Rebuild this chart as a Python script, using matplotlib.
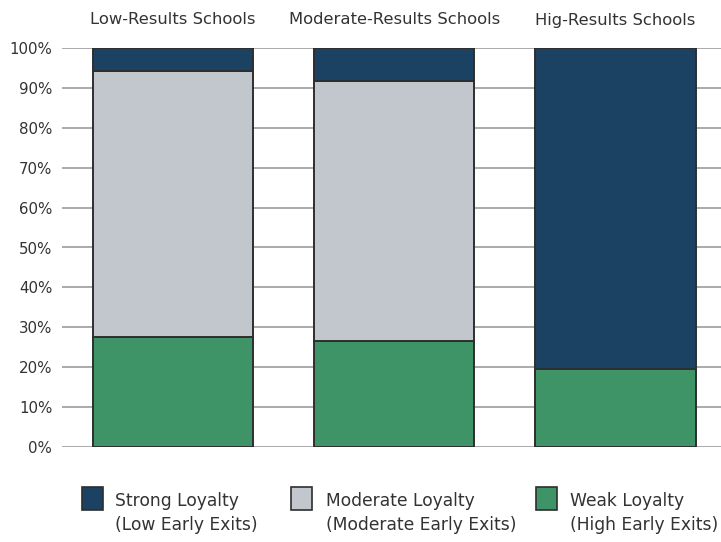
import matplotlib
matplotlib.use("Agg")
import matplotlib.pyplot as plt
from matplotlib.patches import Rectangle
from matplotlib.transforms import blended_transform_factory

# Data
schools = ["Low-Results Schools", "Moderate-Results Schools", "Hig-Results Schools"]
weak = [27.5, 26.5, 19.5]
moderate = [66.8, 65.3, 0.0]
strong = [5.7, 8.2, 80.5]
yticks = [0, 10, 20, 30, 40, 50, 60, 70, 80, 90, 100]
series_names = ["Strong Loyalty\n(Low Early Exits)",
                "Moderate Loyalty\n(Moderate Early Exits)",
                "Weak Loyalty\n(High Early Exits)"]

c_strong = "#1b4263"
c_mod = "#c1c7cd"
c_weak = "#3f9467"
edge = "#2e2e2e"
txt = "#333333"

plt.rcParams["font.family"] = ["DejaVu Sans"]

fig = plt.figure(figsize=(7.21, 5.42), dpi=100)
W, H = 721, 542
ax = fig.add_axes([62 / W, (H - 447) / H, (W - 62) / W, (447 - 48) / H])

x = list(range(len(schools)))
width = 0.724
kw = dict(width=width, edgecolor=edge, linewidth=1.4, zorder=3)
ax.bar(x, weak, color=c_weak, **kw)
bottom2 = [w for w in weak]
ax.bar(x, moderate, bottom=bottom2, color=c_mod, **kw)
bottom3 = [w + m for w, m in zip(weak, moderate)]
ax.bar(x, strong, bottom=bottom3, color=c_strong, **kw)

ax.set_xlim(-0.502, 2.477)
ax.set_ylim(0, 100)
ax.set_yticks(yticks)
ax.set_yticklabels([f"{t}%" for t in yticks])
ax.tick_params(axis="y", length=0, pad=7, labelsize=10.8, labelcolor=txt)
ax.set_xticks([])
for s in ax.spines.values():
    s.set_visible(False)
for t in yticks:
    ax.axhline(t, color="#aaaaaa", linewidth=1.4, zorder=1)

tr = blended_transform_factory(ax.transData, fig.transFigure)
for xi, name in zip(x, schools):
    ax.text(xi, 1 - 20 / H, name, transform=tr, ha="center", va="center",
            fontsize=11.8, color=txt)

# Legend
legend_x = [82, 291, 536]
text_x = [115, 326, 570]
colors = [c_strong, c_mod, c_weak]
for lx, tx, col, label in zip(legend_x, text_x, colors, series_names):
    fig.patches.append(Rectangle((lx / W, 1 - 510 / H), 21 / W, 23 / H,
                                 transform=fig.transFigure, facecolor=col,
                                 edgecolor=edge, linewidth=1.2))
    fig.text(tx / W, 1 - 513 / H, label, ha="left", va="center",
             fontsize=12.3, color=txt, linespacing=1.38)

fig.savefig("out.png", dpi=100)
